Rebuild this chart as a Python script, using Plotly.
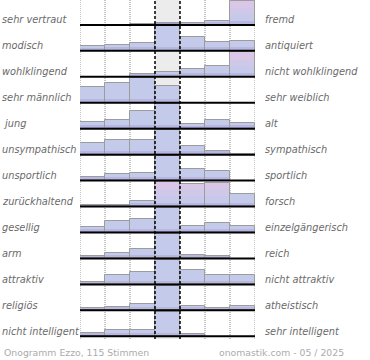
import plotly.graph_objects as go

# ---- data ----
left_labels = ["sehr vertraut", "modisch", "wohlklingend", "sehr männlich", " jung",
               "unsympathisch", "unsportlich", "zurückhaltend", "gesellig", "arm",
               "attraktiv", "religiös", "nicht intelligent"]
right_labels = ["fremd", "antiquiert", "nicht wohlklingend", "sehr weiblich", "alt",
                "sympathisch", "sportlich", "forsch", "einzelgängerisch", "reich",
                "nicht attraktiv", "atheistisch", "sehr intelligent"]
# share per scale step (7 steps), relative to the row maximum (=100)
values = [
    [0, 0, 2, 7, 9, 17, 100],
    [20, 25, 31, 100, 56, 37, 41],
    [0, 0, 11, 21, 32, 45, 100],
    [66, 80, 100, 69, 0, 0, 0],
    [29, 35, 73, 100, 19, 35, 25],
    [49, 59, 59, 100, 37, 17, 4],
    [15, 27, 33, 100, 48, 38, 0],
    [5, 5, 23, 100, 92, 98, 51],
    [22, 48, 55, 100, 28, 39, 25],
    [12, 22, 38, 100, 16, 12, 0],
    [11, 37, 51, 100, 59, 37, 37],
    [10, 14, 25, 100, 16, 8, 16],
    [14, 24, 24, 100, 8, 0, 0],
]
# cells (row, step) that the reference marks with a pinkish top
marked_cells = [(0, 6), (2, 6), (7, 3), (7, 4), (7, 5)]
footer_left = "Onogramm Ezzo, 115 Stimmen"
footer_right = "onomastik.com - 05 / 2025"

# ---- drawing ----
n_rows = len(values)
n_cols = len(values[0])
FULL = 0.94  # bar height (in row units) for the row maximum
bands_plain = [(0.0, 0.07, "#a39dce"), (0.07, 0.15, "#b7b7e0"), (0.15, 1.0, "#c4cbea")]
bands_marked = [(0.0, 0.07, "#a39dce"), (0.07, 0.15, "#b7b7e0"), (0.15, 0.45, "#c6c9ea"),
                (0.45, 0.7, "#cfc8e8"), (0.7, 1.0, "#dac6e6")]

fig = go.Figure()


def baseline(i):
    return n_rows - 1 - i


def add_bands(bands, marked):
    for lo, hi, col in bands:
        xs, bs, hs = [], [], []
        for i, row in enumerate(values):
            yb = baseline(i)
            for j, v in enumerate(row):
                if ((i, j) in marked_cells) != marked:
                    continue
                h = v / 100 * FULL
                seg = min(h, hi * FULL) - lo * FULL
                if seg > 0:
                    xs.append(j + 0.5)
                    bs.append(yb + lo * FULL)
                    hs.append(seg)
        if xs:
            fig.add_bar(x=xs, y=hs, base=bs, width=1,
                        marker=dict(color=col, line=dict(width=0)), hoverinfo="skip")


add_bands(bands_plain, False)
add_bands(bands_marked, True)

xs, bs, hs = [], [], []
for i, row in enumerate(values):
    yb = baseline(i)
    for j, v in enumerate(row):
        if v > 0:
            xs.append(j + 0.5)
            bs.append(yb)
            hs.append(v / 100 * FULL)
fig.add_bar(x=xs, y=hs, base=bs, width=1,
            marker=dict(color="rgba(0,0,0,0)", line=dict(color="#9c9c9c", width=1)),
            hoverinfo="skip")

shapes = []
mid = n_cols // 2
shapes.append(dict(type="rect", xref="x", yref="paper", x0=mid, x1=mid + 1, y0=0, y1=1,
                   fillcolor="#ececec", line=dict(width=0), layer="below"))
for k in range(n_cols + 1):
    if k in (mid, mid + 1):
        continue
    shapes.append(dict(type="line", xref="x", yref="paper", x0=k, x1=k, y0=0, y1=1,
                       line=dict(color="#8a8a8a", width=1, dash="1px,1px"), layer="below"))
for k in (mid, mid + 1):
    shapes.append(dict(type="line", xref="x", yref="paper", x0=k, x1=k, y0=0, y1=1,
                       line=dict(color="#000000", width=1.5, dash="3px,2px"), layer="above"))
for i in range(n_rows):
    yb = baseline(i)
    shapes.append(dict(type="line", xref="x", yref="y", x0=0, x1=n_cols, y0=yb, y1=yb,
                       line=dict(color="#000000", width=2), layer="above"))

PLOT_W = 175.0
annotations = []
lab_font = dict(family="DejaVu Sans", size=9.8, color="#6a6a6a", style="italic")
for i in range(n_rows):
    yb = baseline(i)
    annotations.append(dict(text=left_labels[i], xref="paper", yref="y",
                            x=-80 / PLOT_W, y=yb + 0.2, xanchor="left", yanchor="middle",
                            showarrow=False, font=lab_font))
    annotations.append(dict(text=right_labels[i], xref="paper", yref="y",
                            x=1 + 8 / PLOT_W, y=yb + 0.2, xanchor="left", yanchor="middle",
                            showarrow=False, font=lab_font))
foot_font = dict(family="DejaVu Sans", size=9.3, color="#ababab")
annotations.append(dict(text=footer_left, xref="paper", yref="paper",
                        x=-78 / PLOT_W, y=-13 / 339, xanchor="left", yanchor="middle",
                        showarrow=False, font=foot_font))
annotations.append(dict(text=footer_right, xref="paper", yref="paper",
                        x=1 + 91 / PLOT_W, y=-13 / 339, xanchor="right", yanchor="middle",
                        showarrow=False, font=foot_font))

fig.update_layout(
    width=370, height=360,
    margin=dict(l=80, r=115, t=0, b=21, pad=0),
    barmode="overlay", bargap=0, showlegend=False,
    plot_bgcolor="#ffffff", paper_bgcolor="#ffffff",
    xaxis=dict(range=[0, n_cols], visible=False, fixedrange=True),
    yaxis=dict(range=[-0.104, 12.96], visible=False, fixedrange=True),
    shapes=shapes, annotations=annotations,
)
fig.write_html("out.html", config={"displayModeBar": False},
               post_script="document.body.style.margin='0';document.body.style.overflow='hidden';")
